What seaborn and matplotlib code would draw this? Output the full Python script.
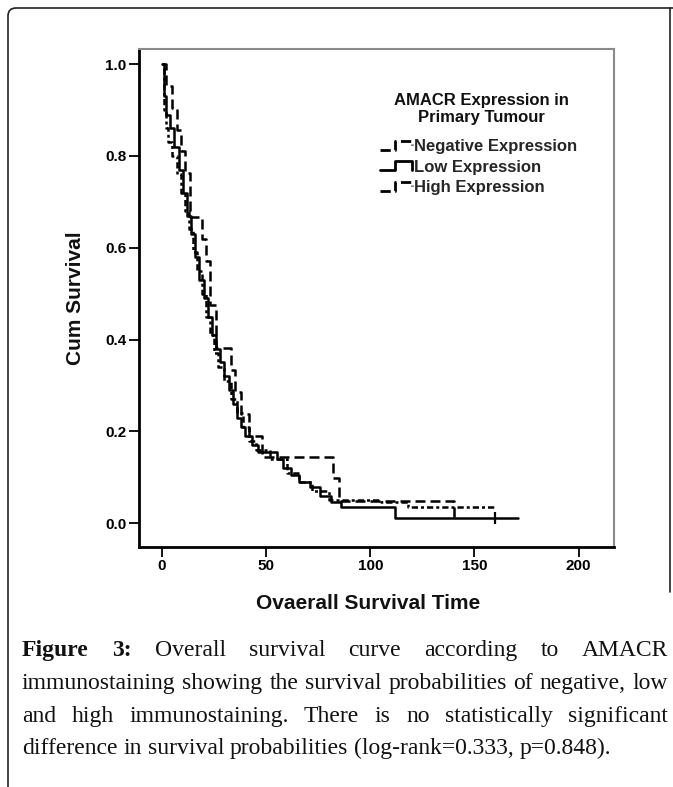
import matplotlib

matplotlib.use("Agg")
import matplotlib.pyplot as plt
import pandas as pd
import seaborn as sns
from matplotlib.legend_handler import HandlerBase
from matplotlib.lines import Line2D
from matplotlib.patches import PathPatch
from matplotlib.path import Path

# Kaplan-Meier step values (time, cumulative survival)
neg_time = [0, 1, 2, 3, 5, 7, 9, 11, 13, 15, 17, 19, 21, 23, 25, 27, 30, 33, 36, 39, 42, 45, 52, 60, 66, 72, 80, 105, 118, 160]
neg_surv = [1.0, 0.90, 0.86, 0.83, 0.80, 0.76, 0.72, 0.68, 0.64, 0.59, 0.55, 0.50, 0.45, 0.41, 0.37, 0.34, 0.31, 0.27,
            0.24, 0.21, 0.18, 0.16, 0.14, 0.11, 0.09, 0.07, 0.05, 0.045, 0.035, 0.035]

low_time = [0, 1, 2, 4, 6, 8, 10, 12, 14, 16, 18, 20, 22, 24, 26, 28, 30, 32, 34, 36, 38, 40, 43, 46, 55, 58, 62, 66,
            71, 76, 81, 86, 112, 171]
low_surv = [1.0, 0.93, 0.89, 0.86, 0.82, 0.77, 0.72, 0.67, 0.63, 0.58, 0.53, 0.49, 0.45, 0.41, 0.38, 0.35, 0.32, 0.29,
            0.26, 0.23, 0.21, 0.19, 0.17, 0.155, 0.14, 0.12, 0.105, 0.09, 0.078, 0.06, 0.045, 0.035, 0.011, 0.011]
low_censor_time = [160]
low_censor_surv = [0.011]

high_time = [0, 2, 5, 7, 9, 11, 13.5, 19, 21, 23, 26, 33, 35, 38, 42, 48, 82, 85, 140]
high_surv = [1.0, 0.952, 0.905, 0.857, 0.81, 0.762, 0.667, 0.619, 0.571, 0.476, 0.381, 0.333, 0.286, 0.238, 0.19,
             0.143, 0.098, 0.048, 0.011]

group_names = ["Negative Expression", "Low Expression", "High Expression"]
legend_title = "AMACR Expression in\nPrimary Tumour"
x_ticks = [0, 50, 100, 150, 200]
y_ticks = [0.0, 0.2, 0.4, 0.6, 0.8, 1.0]

caption_lines = [
    "Figure 3: Overall survival curve according to AMACR",
    "immunostaining showing the survival probabilities of negative, low",
    "and high immunostaining. There is no statistically significant",
    "difference in survival probabilities (log-rank=0.333, p=0.848).",
]

W, H = 673, 787


class StepHandler(HandlerBase):
    def create_artists(self, legend, orig_handle, xdescent, ydescent, width, height, fontsize, trans):
        x0, y0 = -xdescent, -ydescent
        end = 0.15 if orig_handle.get_linestyle() == "-" else 0.55
        xs = [x0, x0 + 0.45 * width, x0 + 0.45 * width, x0 + width, x0 + width]
        ys = [y0 + 0.15 * height, y0 + 0.15 * height, y0 + 0.9 * height, y0 + 0.9 * height, y0 + end * height]
        line = Line2D(xs, ys, color="black", lw=2, linestyle=orig_handle.get_linestyle())
        line.set_transform(trans)
        return [line]


sns.set_theme(style="white")
plt.rcParams["font.family"] = ["Liberation Sans", "DejaVu Sans"]

fig = plt.figure(figsize=(W / 100, H / 100), dpi=100)
ax = fig.add_axes([139 / W, 1 - 547 / H, (614 - 139) / W, (547 - 49) / H])

styles = [(0, (1.2, 1.2, 2.5, 1.2)), "-", (0, (4, 2))]
series = [(neg_time, neg_surv), (low_time, low_surv), (high_time, high_surv)]
handles = []
for name, (t, s), ls in zip(group_names, series, styles):
    df = pd.DataFrame({"time": t, "surv": s})
    sns.lineplot(data=df, x="time", y="surv", ax=ax, color="black", lw=1.8, linestyle=ls,
                 drawstyle="steps-post", estimator=None, legend=False)
    handles.append(Line2D([], [], color="black", linestyle=ls))

ax.plot(low_censor_time, low_censor_surv, marker="|", ms=9, mew=1.6, color="black", ls="none")

ax.set_xlim(-11, 217)
ax.set_ylim(-0.052, 1.033)
ax.set_xticks(x_ticks)
ax.set_yticks(y_ticks)
ax.set_xticklabels([str(v) for v in x_ticks])
ax.set_yticklabels([f"{v:.1f}" for v in y_ticks])
ax.tick_params(direction="out", length=7, width=1.3, labelsize=11, pad=2, left=True, bottom=True, colors="black")
for lab in ax.get_xticklabels() + ax.get_yticklabels():
    lab.set_fontweight("bold")

ax.spines["left"].set_color("black")
ax.spines["bottom"].set_color("black")
ax.spines["left"].set_linewidth(2)
ax.spines["bottom"].set_linewidth(2)
for side in ["top", "right"]:
    ax.spines[side].set_color("#8a8a8a")
    ax.spines[side].set_linewidth(1.5)

ax.set_xlabel("Ovaerall Survival Time", fontsize=15, fontweight="bold", color="#111111")
ax.set_ylabel("Cum Survival", fontsize=15, fontweight="bold", color="#111111")
ax.xaxis.set_label_coords((368 - 139) / (614 - 139), -(594 - 547) / (547 - 49))
ax.yaxis.set_label_coords(-(139 - 85) / (614 - 139), 0.5)

fig.text(481 / W, 1 - 109 / H, legend_title, ha="center", va="center", multialignment="center",
         fontsize=12, fontweight="bold", linespacing=1.2, color="#111111")
leg = ax.legend(handles, group_names, loc="upper left",
                bbox_to_anchor=(372 / W, 1 - 131 / H), bbox_transform=fig.transFigure, frameon=False,
                handler_map={Line2D: StepHandler()}, handlelength=1.9, handletextpad=0.15, labelspacing=0.33,
                borderpad=0, prop={"weight": "bold", "size": 12})

# page frame (display pixels, origin bottom-left)
frame = Path([(W + 2, H - 8), (16, H - 8), (8, H - 8), (8, H - 16), (8, -2)],
             [Path.MOVETO, Path.LINETO, Path.CURVE3, Path.CURVE3, Path.LINETO])
fig.add_artist(PathPatch(frame, fill=False, lw=1.2, edgecolor="#222222", transform=None))
fig.add_artist(Line2D([W - 3, W - 3], [H - 8, H - 592], lw=1.2, color="#222222", transform=None))

# justified caption
renderer = fig.canvas.get_renderer()
left, right = 22, 668
line_y = [650, 683, 716, 748]
cap_size = 17
for i, (line, y) in enumerate(zip(caption_lines, line_y)):
    words = line.split(" ")
    texts = []
    for j, w in enumerate(words):
        bold = i == 0 and j < 2
        txt = fig.text(0, 1 - (y + 6) / H, w, fontsize=cap_size, va="baseline", ha="left",
                       family=["Liberation Serif", "DejaVu Serif"], fontweight="bold" if bold else "normal",
                       color="#111111")
        texts.append(txt)
    widths = [t.get_window_extent(renderer).width for t in texts]
    if i < len(caption_lines) - 1:
        gap = (right - left - sum(widths)) / (len(words) - 1)
    else:
        gap = cap_size * 100 / 72 * 0.25
    x = left
    for t, w in zip(texts, widths):
        t.set_x(x / W)
        x += w + gap

fig.savefig("out.png", dpi=100)
